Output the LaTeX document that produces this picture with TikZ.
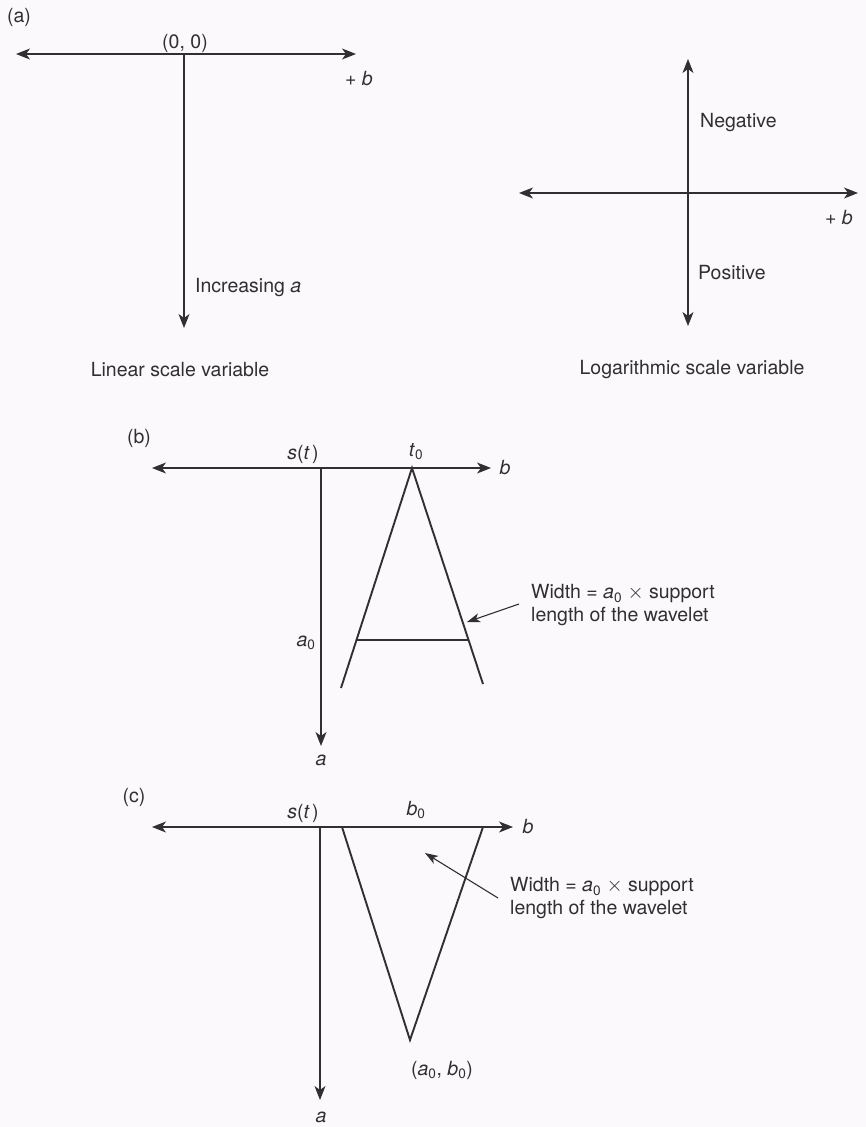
\documentclass[tikz,border=0pt]{standalone}
\usepackage{fontspec}
\setmainfont{TeX Gyre Heros}
\usetikzlibrary{arrows.meta}
\definecolor{ink}{HTML}{303030}
\definecolor{paper}{HTML}{FCF9FC}
\begin{document}
\begin{tikzpicture}[x=1pt,y=-1pt,
  axis/.style={draw=ink, line width=1.1pt},
  onetip/.style={axis,-{Stealth[length=14pt,width=11pt,inset=4pt]}},
  twotip/.style={axis,{Stealth[length=14pt,width=11pt,inset=4pt]}-{Stealth[length=14pt,width=11pt,inset=4pt]}},
  pointer/.style={draw=ink, line width=1.1pt,-{Stealth[length=13pt,width=9pt,inset=3.5pt]}},
  wave/.style={draw=ink, line width=1.9pt},
  lbl/.style={inner sep=0pt, text=ink, font=\fontsize{19.5}{23}\selectfont},
  ]
\fill[paper] (0,0) rectangle (866,1127);
\useasboundingbox (0,0) rectangle (866,1127);

% ---------- (a) linear ----------
\node[lbl] (la) at (19,17) {(a)};
\coordinate (aL) at (16,54);
\coordinate (aR) at (356,54);
\coordinate (aO) at (184,54);
\coordinate (aD) at (184,328);
\draw[twotip] (aL) -- (aR);
\draw[onetip] (aO) -- (aD);
\node[lbl] (origin) at (185,43) {(0, 0)};
\node[lbl] (pb1) at (359,79) {+ \textit{b}};
\node[lbl,anchor=west] (inca) at (195,288) {Increasing \textit{a}};
\node[lbl] (cap1) at (180,370) {Linear scale variable};

% ---------- (a) logarithmic ----------
\coordinate (lU) at (688,59);
\coordinate (lD) at (688,326);
\coordinate (lL) at (519,193);
\coordinate (lR) at (858,193);
\draw[twotip] (lL) -- (lR);
\draw[twotip] (lD) -- (lU);
\node[lbl,anchor=west] (neg) at (700,123) {Negative};
\node[lbl] (pb2) at (839,218) {+ \textit{b}};
\node[lbl,anchor=west] (pos) at (698,273) {Positive};
\node[lbl] (cap2) at (692,370) {Logarithmic scale variable};

% ---------- (b) ----------
\node[lbl] (lb) at (139,438) {(b)};
\coordinate (bL) at (152,468);
\coordinate (bR) at (491,468);
\coordinate (bO) at (321,468);
\coordinate (bD) at (321,746);
\draw[twotip] (bL) -- (bR);
\draw[onetip] (bO) -- (bD);
\node[lbl] (bst) at (303,454) {\textit{s}(\textit{t\,})};
\node[lbl] (bt0) at (416,452) {\textit{t}\textsubscript{0}};
\node[lbl] (bb) at (505,468) {\textit{b}};
\node[lbl] (ba0) at (306,643) {\textit{a}\textsubscript{0}};
\node[lbl] (ba) at (321,760) {\textit{a}};
\coordinate (apex) at (412,468);
\coordinate (legL) at (341,688);
\coordinate (legR) at (483,684);
\coordinate (barL) at (357,640);
\coordinate (barR) at (469,640);
\draw[wave, line join=miter] (legL) -- (apex) -- (legR);
\draw[wave] (barL) -- (barR);
\node[lbl,anchor=west,align=left] (bw) at (531,605.5) {Width = \textit{a}\textsubscript{0} $\times$ support\\length of the wavelet};
\coordinate (bpS) at (519,604);
\coordinate (bpE) at (467,622);
\draw[pointer] (bpS) -- (bpE);

% ---------- (c) ----------
\node[lbl] (lc) at (134,797) {(c)};
\coordinate (cL) at (152,827);
\coordinate (cR) at (513,827);
\coordinate (cO) at (320,827);
\coordinate (cD) at (320,1100);
\draw[twotip] (cL) -- (cR);
\draw[onetip] (cO) -- (cD);
\node[lbl] (cst) at (303,813) {\textit{s}(\textit{t\,})};
\node[lbl] (cb0) at (416,810) {\textit{b}\textsubscript{0}};
\node[lbl] (cb) at (528,827) {\textit{b}};
\node[lbl] (ca) at (321,1117) {\textit{a}};
\coordinate (vL) at (342,827);
\coordinate (vR) at (483,827);
\coordinate (vB) at (410,1040);
\draw[wave, line join=miter] (vL) -- (vB) -- (vR);
\node[lbl] (cab) at (442,1070) {(\textit{a}\textsubscript{0}, \textit{b}\textsubscript{0})};
\node[lbl,anchor=west,align=left] (cw) at (510,898.5) {Width = \textit{a}\textsubscript{0} $\times$ support\\length of the wavelet};
\coordinate (cpS) at (498,898);
\coordinate (cpE) at (425,853);
\draw[pointer] (cpS) -- (cpE);
\end{tikzpicture}
\end{document}
